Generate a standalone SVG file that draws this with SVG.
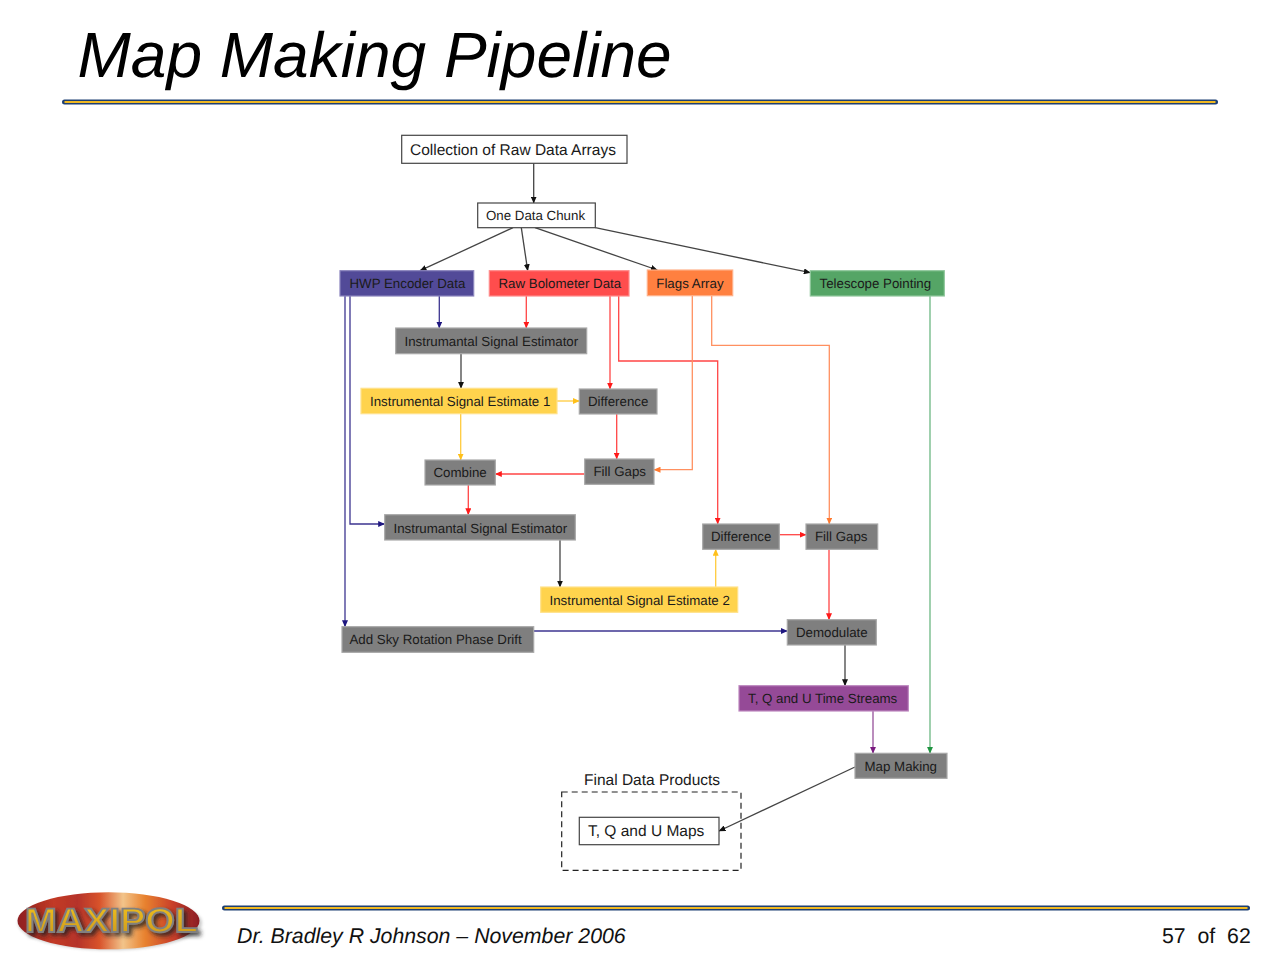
<svg xmlns="http://www.w3.org/2000/svg" width="1280" height="960" viewBox="0 0 1280 960">
<style>
text{font-family:"Liberation Sans",Arial,sans-serif;fill:#1a1a1a;text-rendering:geometricPrecision}
.t{font-size:13.3px}
.b{font-size:15.5px}
.title{font-size:64px;font-style:italic;fill:#000}
.foot{font-size:21.3px;fill:#111}
rect{stroke-width:1.2}
.w{fill:#fff;stroke:#444}
.g{fill:#7f7f7f;stroke:#a8a8a8}
.y{fill:#ffd34d;stroke:#ffe28a}
.hwp{fill:#524a98;stroke:#8a84bd}
.raw{fill:#ff4d4d;stroke:#ff8a8a}
.fl{fill:#ff8040;stroke:#ffb088}
.tp{fill:#55a566;stroke:#90c79c}
.pu{fill:#954a97;stroke:#bd88bf}
#connectors path{fill:none;stroke-width:1.3}
.ck{stroke:#444;marker-end:url(#ak)}
.cn{stroke:#3d3590;marker-end:url(#an)}
.cr{stroke:#ff4545;marker-end:url(#ar)}
.co{stroke:#ff9060;marker-end:url(#ao)}
.cy{stroke:#ffcb3d;marker-end:url(#ay)}
.cg{stroke:#6cb783;marker-end:url(#ag)}
.cp{stroke:#96509a;marker-end:url(#ap)}
.rn{fill:none;stroke:#1d3f73;stroke-width:5;stroke-linecap:round}
.ry{fill:none;stroke:#f0b820;stroke-width:2.2}
</style>
<defs>
<marker id="ak" markerUnits="userSpaceOnUse" markerWidth="7" markerHeight="6" refX="6.5" refY="3" orient="auto"><path d="M0 0L7 3L0 6Z" fill="#111"/></marker>
<marker id="an" markerUnits="userSpaceOnUse" markerWidth="7" markerHeight="6" refX="6.5" refY="3" orient="auto"><path d="M0 0L7 3L0 6Z" fill="#1f1780"/></marker>
<marker id="ar" markerUnits="userSpaceOnUse" markerWidth="7" markerHeight="6" refX="6.5" refY="3" orient="auto"><path d="M0 0L7 3L0 6Z" fill="#ff1a1a"/></marker>
<marker id="ao" markerUnits="userSpaceOnUse" markerWidth="7" markerHeight="6" refX="6.5" refY="3" orient="auto"><path d="M0 0L7 3L0 6Z" fill="#ff7a30"/></marker>
<marker id="ay" markerUnits="userSpaceOnUse" markerWidth="7" markerHeight="6" refX="6.5" refY="3" orient="auto"><path d="M0 0L7 3L0 6Z" fill="#ffc01a"/></marker>
<marker id="ag" markerUnits="userSpaceOnUse" markerWidth="7" markerHeight="6" refX="6.5" refY="3" orient="auto"><path d="M0 0L7 3L0 6Z" fill="#1f9440"/></marker>
<marker id="ap" markerUnits="userSpaceOnUse" markerWidth="7" markerHeight="6" refX="6.5" refY="3" orient="auto"><path d="M0 0L7 3L0 6Z" fill="#7a1a80"/></marker>
<linearGradient id="lg" x1="0" x2="1" y1="0" y2="0">
<stop offset="0" stop-color="#8e1f22"/><stop offset=".2" stop-color="#c23a25"/><stop offset=".33" stop-color="#b5332a"/><stop offset=".45" stop-color="#d8532b"/><stop offset=".58" stop-color="#f2c48a"/><stop offset=".7" stop-color="#e8822f"/><stop offset=".85" stop-color="#c9402a"/><stop offset="1" stop-color="#8a1c24"/>
</linearGradient>
<linearGradient id="lt" x1="0" x2="0" y1="0" y2="1"><stop offset="0" stop-color="#f2c21f"/><stop offset="1" stop-color="#c9951a"/></linearGradient>
<filter id="sh" x="-10%" y="-30%" width="120%" height="160%"><feGaussianBlur stdDeviation="1.8"/></filter>
<filter id="sf" x="-5%" y="-5%" width="110%" height="110%"><feGaussianBlur stdDeviation=".5"/></filter>
<filter id="ds" x="-10%" y="-30%" width="125%" height="170%"><feDropShadow dx="3" dy="3" stdDeviation="2" flood-color="#222" flood-opacity=".8"/></filter>
</defs>
<rect width="1280" height="960" fill="#fff" stroke="none"/>
<text class="title" x="77.5" y="77">Map Making Pipeline</text>
<path class="rn" d="M64.5 102H1215.5"/><path class="ry" d="M64.5 102H1215.5"/>
<path class="rn" d="M224.5 908H1247.5"/><path class="ry" d="M224.5 908H1247.5"/>

<g id="logo">
<ellipse cx="110" cy="923" rx="92" ry="27" fill="#555" opacity=".3" filter="url(#sh)"/>
<ellipse cx="108.5" cy="920.8" rx="91" ry="28.5" fill="url(#lg)" filter="url(#sf)"/>
<text x="25" y="932" font-size="34" font-weight="700" textLength="173" lengthAdjust="spacingAndGlyphs" style="fill:url(#lt);stroke:#808080;stroke-width:1.8" filter="url(#ds)">MAXIPOL</text>
</g>

<text class="foot" font-style="italic" x="237" y="943">Dr. Bradley R Johnson – November 2006</text>
<text class="foot" x="1162" y="943" xml:space="preserve">57  of  62</text>

<g id="connectors">
<path class="ck" d="M533.7 163.3V203"/>
<path class="ck" d="M513 227.7L420 270.7"/>
<path class="ck" d="M521.3 227.7L527.7 270.7"/>
<path class="ck" d="M535 227.7L657.3 270"/>
<path class="ck" d="M595.3 227.7L810.3 272.7"/>
<path class="cn" d="M439.3 296V328"/>
<path class="cr" d="M526.3 296V328"/>
<path class="cn" d="M345 296V626.7"/>
<path class="cn" d="M350 296V524H384.7"/>
<path class="cr" d="M610 296V389"/>
<path class="cr" d="M618.7 296V361H717.7V524"/>
<path class="co" d="M692.3 296V469.7H654"/>
<path class="co" d="M711.7 296V345.3H829.3V524"/>
<path class="cg" d="M930 296V753.3"/>
<path class="ck" d="M461 353.7V388.3"/>
<path class="cy" d="M557 401H579.3"/>
<path class="cy" d="M460.7 413.7V460"/>
<path class="cr" d="M616.7 414V459"/>
<path class="cr" d="M584.7 474H495.3"/>
<path class="cr" d="M468.3 485V514.7"/>
<path class="ck" d="M560 540V587"/>
<path class="cy" d="M715.7 587V549.3"/>
<path class="cr" d="M779.3 534.7H806"/>
<path class="cr" d="M829 549.3V619.7"/>
<path class="cn" d="M533.7 631H787.3"/>
<path class="ck" d="M845 645V685.7"/>
<path class="cp" d="M873 711V753.3"/>
<path class="ck" d="M855 767L719 831"/>
</g>

<g id="n-collection"><rect class="w" x="401.7" y="135.3" width="225.3" height="28"/><text class="b" x="410" y="155">Collection of Raw Data Arrays</text></g>
<g id="n-chunk"><rect class="w" x="477.7" y="203" width="117.6" height="24.7"/><text class="t" x="486" y="220">One Data Chunk</text></g>
<g id="n-hwp"><rect class="hwp" x="340" y="270.7" width="133.7" height="25.3"/><text class="t" x="349.5" y="288">HWP Encoder Data</text></g>
<g id="n-raw"><rect class="raw" x="489.3" y="270.7" width="139.7" height="25.3"/><text class="t" x="498.5" y="288">Raw Bolometer Data</text></g>
<g id="n-flags"><rect class="fl" x="647.3" y="270" width="85.4" height="25.7"/><text class="t" x="656.3" y="288">Flags Array</text></g>
<g id="n-pointing"><rect class="tp" x="810.3" y="270.7" width="134" height="25.3"/><text class="t" x="819.5" y="288">Telescope Pointing</text></g>
<g id="n-est1"><rect class="g" x="395.7" y="328" width="191" height="25.7"/><text class="t" x="404.5" y="346">Instrumantal Signal Estimator</text></g>
<g id="n-ise1"><rect class="y" x="361" y="388.3" width="196" height="25.4"/><text class="t" x="370" y="406">Instrumental Signal Estimate 1</text></g>
<g id="n-diff1"><rect class="g" x="579.3" y="389" width="77.7" height="25"/><text class="t" x="588" y="406">Difference</text></g>
<g id="n-fill1"><rect class="g" x="584.7" y="459" width="69.3" height="25.3"/><text class="t" x="593.5" y="476">Fill Gaps</text></g>
<g id="n-combine"><rect class="g" x="425" y="460" width="70.3" height="25"/><text class="t" x="433.5" y="477">Combine</text></g>
<g id="n-est2"><rect class="g" x="384.7" y="514.7" width="190.6" height="25.3"/><text class="t" x="393.5" y="532.5">Instrumantal Signal Estimator</text></g>
<g id="n-ise2"><rect class="y" x="540.7" y="587" width="197" height="25.3"/><text class="t" x="549.5" y="605">Instrumental Signal Estimate 2</text></g>
<g id="n-sky"><rect class="g" x="342" y="626.7" width="191.7" height="25.6"/><text class="t" x="349.5" y="644">Add Sky Rotation Phase Drift</text></g>
<g id="n-diff2"><rect class="g" x="702.7" y="524" width="76.6" height="25.3"/><text class="t" x="711" y="541">Difference</text></g>
<g id="n-fill2"><rect class="g" x="806" y="524" width="71.7" height="25.3"/><text class="t" x="815" y="541">Fill Gaps</text></g>
<g id="n-demod"><rect class="g" x="787.3" y="619.7" width="89" height="25.3"/><text class="t" x="796" y="637">Demodulate</text></g>
<g id="n-tqu"><rect class="pu" x="739" y="685.7" width="169.3" height="25.3"/><text class="t" x="748" y="703">T, Q and U Time Streams</text></g>
<g id="n-map"><rect class="g" x="855" y="753.3" width="92" height="25"/><text class="t" x="864.5" y="771">Map Making</text></g>
<g id="n-final"><rect x="561.7" y="792" width="179.3" height="78.3" fill="none" stroke="#222" stroke-width="1.6" stroke-dasharray="6 4"/><text class="b" x="584" y="785">Final Data Products</text></g>
<g id="n-maps"><rect class="w" x="579.3" y="817.3" width="139.7" height="27.4"/><text class="b" x="588" y="836">T, Q and U Maps</text></g>
</svg>
